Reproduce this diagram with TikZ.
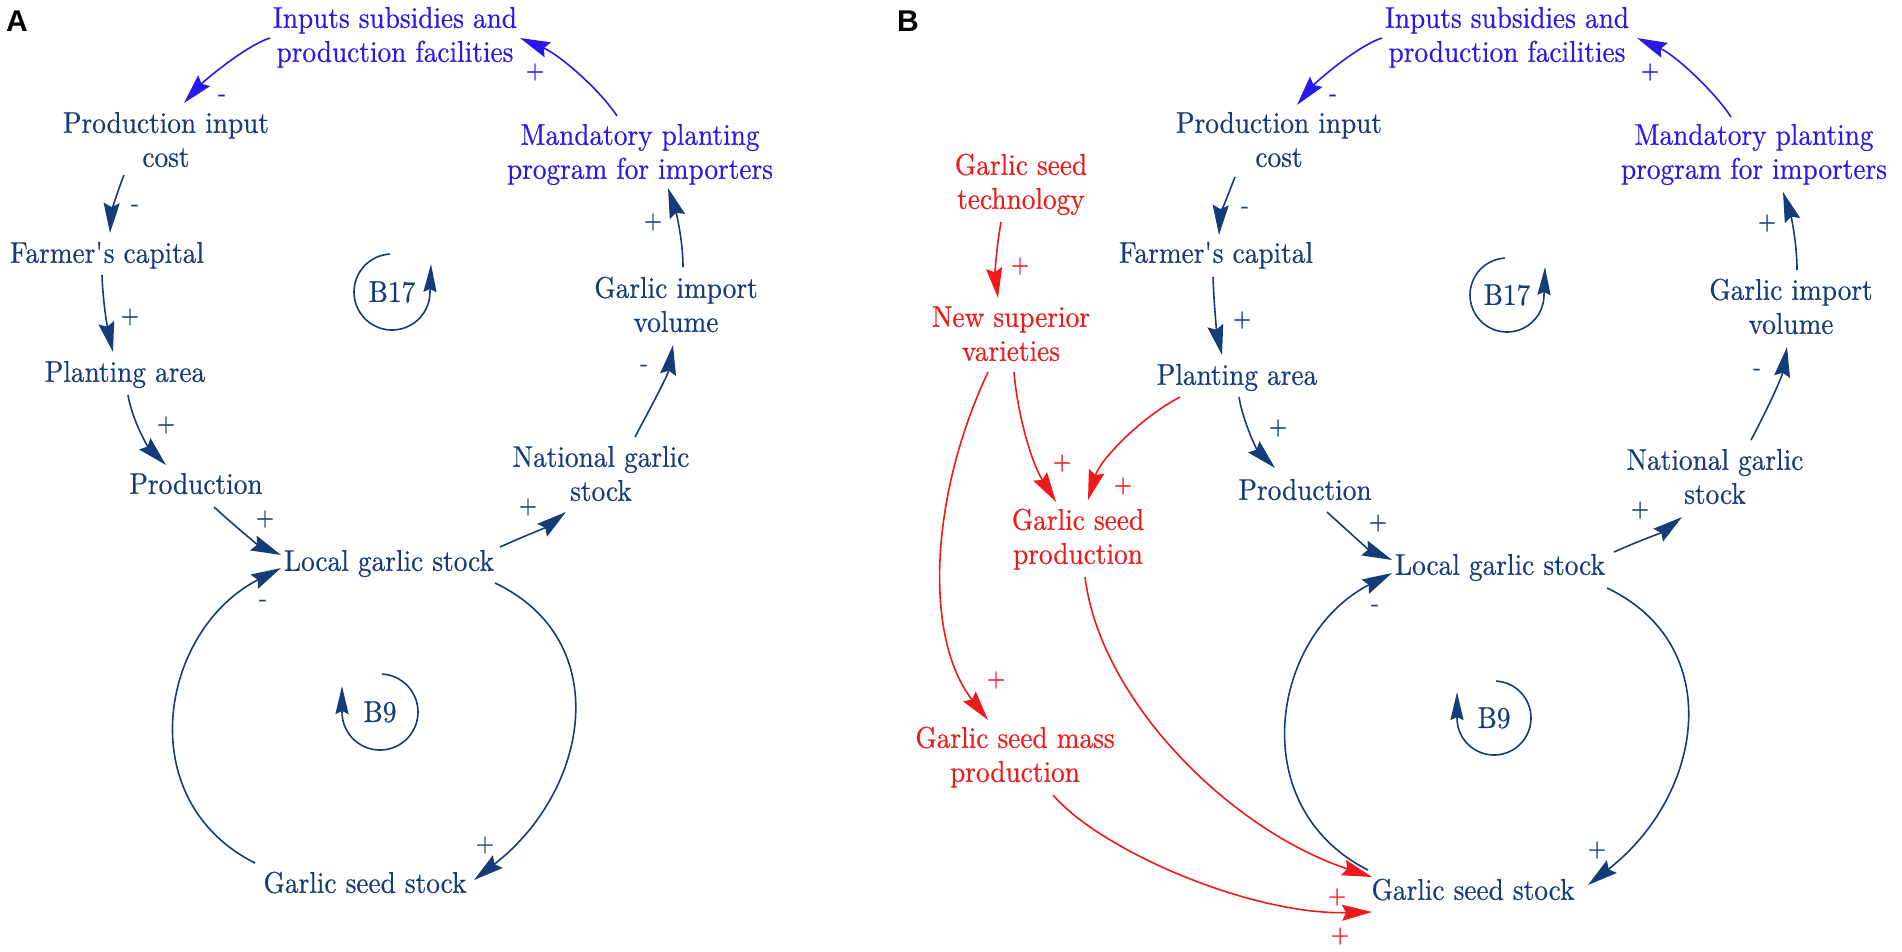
\documentclass[tikz,border=0pt]{standalone}
\usepackage{fontspec}
\setmainfont{lmroman10-regular.otf}[FakeStretch=0.91,FakeBold=0.5]
\newfontfamily\panelfont{Liberation Sans}
\usetikzlibrary{arrows.meta,calc}
\definecolor{navy}{RGB}{20,60,120}
\definecolor{vblue}{RGB}{40,25,235}
\definecolor{vred}{RGB}{240,25,25}
\tikzset{
  lbl/.style={inner sep=0pt,align=center,font=\fontsize{30}{34}\selectfont},
  nvtxt/.style={lbl,text=navy},
  bltxt/.style={lbl,text=vblue},
  rdtxt/.style={lbl,text=vred},
  sgn/.style={inner sep=0pt,font=\fontsize{26}{30}\selectfont},
  panel/.style={inner sep=0pt,font=\panelfont\bfseries\fontsize{30}{34}\selectfont},
  lnk/.style={line width=1.6pt,-{Stealth[length=30pt,width=16pt,inset=4pt]}},
  nvl/.style={lnk,draw=navy},
  bll/.style={lnk,draw=vblue},
  rdl/.style={lnk,draw=vred},
  loopl/.style={line width=1.6pt,draw=navy,-{Stealth[length=28pt,width=13pt,inset=3pt]}},
}
\begin{document}
\begin{tikzpicture}[x=1pt,y=-1pt]
\useasboundingbox (0,0) rectangle (1902,951);
% ---------------- Panel A ----------------
\node[panel] (labA) at (17,21) {A};
\node[bltxt] (inA) at (395,38) {\strut Inputs subsidies and\\\strut production facilities};
\node[nvtxt] (picA) at (166,143) {\strut Production input\\\strut cost};
\node[bltxt] (manA) at (640,155) {\strut Mandatory planting\\\strut program for importers};
\node[nvtxt] (farA) at (107,256) {\strut Farmer\textquotesingle s capital};
\node[nvtxt] (volA) at (676,308) {\strut Garlic import\\\strut volume};
\node[nvtxt] (plA) at (125,375) {\strut Planting area};
\node[nvtxt] (natA) at (601,477) {\strut National garlic\\\strut stock};
\node[nvtxt] (prodA) at (196,487) {\strut Production};
\node[nvtxt] (locA) at (389,564) {\strut Local garlic stock};
\node[nvtxt] (gssA) at (365,886) {\strut Garlic seed stock};
\node[nvtxt] (b17A) at (392,292) {B17};
\node[nvtxt] (b9A) at (380,712) {B9};

\draw[bll] ($(inA)+(-125,0)$) .. controls +(-25,8) and +(19,-21) .. ($(picA)+(18,-40)$);
\draw[bll] ($(manA)+(-23,-39)$) .. controls +(-17,-26) and +(40,17) .. ($(inA)+(125,0)$);
\draw[nvl] ($(picA)+(-42,32)$) .. controls +(-8,20) and +(1,-18) .. ($(farA)+(3,-23)$);
\draw[nvl] ($(farA)+(-5,19)$) .. controls +(1,30) and +(-5,-22) .. ($(plA)+(-12,-23)$);
\draw[nvl] ($(plA)+(3,20)$) .. controls +(4,25) and +(-18,-18) .. ($(prodA)+(-30,-22)$);
\draw[nvl] ($(prodA)+(18,20)$) .. controls +(23,21) and +(-23,-10) .. ($(locA)+(-108,-9)$);
\draw[nvl] ($(locA)+(111,-17)$) .. controls +(22,-10) and +(-21,16) .. ($(natA)+(-35,35)$);
\draw[nvl] ($(natA)+(34,-40)$) .. controls +(17,-32) and +(-5,30) .. ($(volA)+(-3,37)$);
\draw[nvl] ($(volA)+(7,-41)$) .. controls +(0,-27) and +(8,24) .. ($(manA)+(28,33)$);
\draw[nvl] ($(gssA)+(-110,-23)$) .. controls +(-125,-63) and +(-121,62) .. ($(locA)+(-108,4)$);
\draw[nvl] ($(locA)+(106,19)$) .. controls +(120,57) and +(116,-90) .. ($(gssA)+(109,-6)$);
\draw[loopl,shift={(b17A)}] plot[domain=267:0,samples=50] ({38*cos(\x)},{38*sin(\x)}) -- ++(1,-28);
\draw[loopl,shift={(b9A)}] plot[domain=-87:180,samples=50] ({38*cos(\x)},{38*sin(\x)}) -- ++(0,-26);

\node[sgn,text=vblue] (sa1) at (222,98) {-};
\node[sgn,text=vblue] (sa2) at (535,72) {+};
\node[sgn,text=navy] (sa3) at (135,208) {-};
\node[sgn,text=navy] (sa4) at (130,317) {+};
\node[sgn,text=navy] (sa5) at (166,425) {+};
\node[sgn,text=navy] (sa6) at (265,519) {+};
\node[sgn,text=navy] (sa7) at (528,507) {+};
\node[sgn,text=navy] (sa8) at (644,368) {-};
\node[sgn,text=navy] (sa9) at (653,222) {+};
\node[sgn,text=navy] (sa10) at (263,603) {-};
\node[sgn,text=navy] (sa11) at (485,845) {+};

% ---------------- Panel B ----------------
\node[panel] (labB) at (908,21) {B};
\node[bltxt] (inB) at (1507,38) {\strut Inputs subsidies and\\\strut production facilities};
\node[nvtxt] (picB) at (1279,143) {\strut Production input\\\strut cost};
\node[bltxt] (manB) at (1754,155) {\strut Mandatory planting\\\strut program for importers};
\node[rdtxt] (techB) at (1021,185) {\strut Garlic seed\\\strut technology};
\node[nvtxt] (farB) at (1216,256) {\strut Farmer\textquotesingle s capital};
\node[rdtxt] (nsvB) at (1011,337) {\strut New superior\\\strut varieties};
\node[nvtxt] (volB) at (1791,310) {\strut Garlic import\\\strut volume};
\node[nvtxt] (plB) at (1237,378) {\strut Planting area};
\node[nvtxt] (natB) at (1715,480) {\strut National garlic\\\strut stock};
\node[rdtxt] (gspB) at (1078,540) {\strut Garlic seed\\\strut production};
\node[nvtxt] (prodB) at (1305,493) {\strut Production};
\node[nvtxt] (locB) at (1500,568) {\strut Local garlic stock};
\node[rdtxt] (gsmpB) at (1015,758) {\strut Garlic seed mass\\\strut production};
\node[nvtxt] (gssB) at (1473,893) {\strut Garlic seed stock};
\node[nvtxt] (b17B) at (1507,295) {B17};
\node[nvtxt] (b9B) at (1494,718) {B9};

\draw[bll] ($(inB)+(-125,0)$) .. controls +(-25,8) and +(19,-23) .. ($(picB)+(18,-38)$);
\draw[bll] ($(manB)+(-23,-38)$) .. controls +(-17,-26) and +(38,17) .. ($(inB)+(130,0)$);
\draw[nvl] ($(picB)+(-44,34)$) .. controls +(-8,20) and +(1,-18) .. ($(farB)+(3,-21)$);
\draw[nvl] ($(farB)+(-3,21)$) .. controls +(1,30) and +(-5,-22) .. ($(plB)+(-15,-23)$);
\draw[nvl] ($(plB)+(2,19)$) .. controls +(4,25) and +(-18,-18) .. ($(prodB)+(-30,-25)$);
\draw[nvl] ($(prodB)+(22,19)$) .. controls +(23,21) and +(-23,-10) .. ($(locB)+(-108,-8)$);
\draw[nvl] ($(locB)+(114,-16)$) .. controls +(22,-10) and +(-21,16) .. ($(natB)+(-33,37)$);
\draw[nvl] ($(natB)+(36,-40)$) .. controls +(17,-32) and +(-5,30) .. ($(volB)+(-4,37)$);
\draw[nvl] ($(volB)+(6,-40)$) .. controls +(0,-27) and +(8,24) .. ($(manB)+(29,37)$);
\draw[nvl] ($(gssB)+(-105,-23)$) .. controls +(-125,-63) and +(-121,62) .. ($(locB)+(-108,5)$);
\draw[nvl] ($(locB)+(107,20)$) .. controls +(120,57) and +(116,-90) .. ($(gssB)+(115,-8)$);
\draw[loopl,shift={(b17B)}] plot[domain=267:0,samples=50] ({37*cos(\x)},{37*sin(\x)}) -- ++(1,-28);
\draw[loopl,shift={(b9B)}] plot[domain=-87:180,samples=50] ({37*cos(\x)},{37*sin(\x)}) -- ++(0,-26);

\draw[rdl] ($(techB)+(-20,37)$) .. controls +(-5,28) and +(-3,-23) .. ($(nsvB)+(-13,-39)$);
\draw[rdl] ($(nsvB)+(3,35)$) .. controls +(3,38) and +(-26,-42) .. ($(gspB)+(-22,-38)$);
\draw[rdl] ($(plB)+(-57,19)$) .. controls +(-40,21) and +(12,-40) .. ($(gspB)+(10,-40)$);
\draw[rdl] ($(nsvB)+(-23,35)$) .. controls +(-60,128) and +(-63,-80) .. ($(gsmpB)+(-27,-38)$);
\draw[rdl] ($(gspB)+(7,37)$) .. controls +(15,123) and +(-142,-47) .. ($(gssB)+(-101,-16)$);
\draw[rdl] ($(gsmpB)+(38,37)$) .. controls +(47,55) and +(-122,3) .. ($(gssB)+(-101,19)$);

\node[sgn,text=vblue] (sb1) at (1333,98) {-};
\node[sgn,text=vblue] (sb2) at (1650,72) {+};
\node[sgn,text=navy] (sb3) at (1245,210) {-};
\node[sgn,text=navy] (sb4) at (1242,320) {+};
\node[sgn,text=navy] (sb5) at (1278,428) {+};
\node[sgn,text=navy] (sb6) at (1378,523) {+};
\node[sgn,text=navy] (sb7) at (1640,510) {+};
\node[sgn,text=navy] (sb8) at (1757,372) {-};
\node[sgn,text=navy] (sb9) at (1767,223) {+};
\node[sgn,text=navy] (sb10) at (1375,608) {-};
\node[sgn,text=navy] (sb11) at (1597,850) {+};
\node[sgn,text=vred] (sr1) at (1020,266) {+};
\node[sgn,text=vred] (sr2) at (1062,463) {+};
\node[sgn,text=vred] (sr3) at (1123,486) {+};
\node[sgn,text=vred] (sr4) at (996,680) {+};
\node[sgn,text=vred] (sr5) at (1337,897) {+};
\node[sgn,text=vred] (sr6) at (1340,936) {+};
\end{tikzpicture}
\end{document}
